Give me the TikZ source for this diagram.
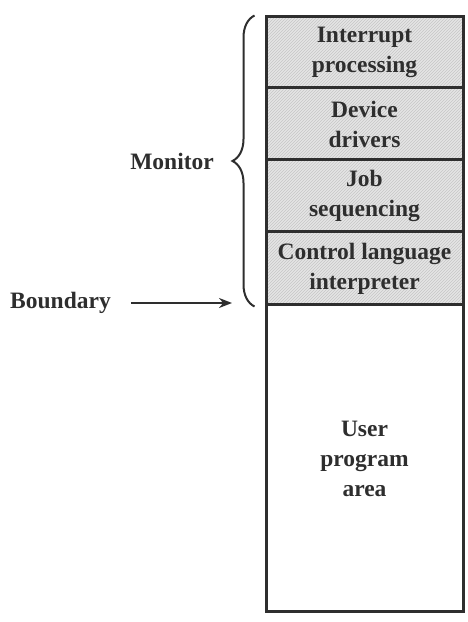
\documentclass[tikz,border=0pt]{standalone}
\usepackage{fontspec}
\setmainfont{Liberation Serif}
\usetikzlibrary{patterns,decorations.pathreplacing,arrows.meta}
\definecolor{ink}{HTML}{2E2E2E}
\begin{document}
\begin{tikzpicture}[x=1pt,y=1pt,
  txt/.style={font=\fontsize{23.5}{30}\selectfont\bfseries, text=ink, align=center},
  cellbox/.style={draw=ink, line width=3pt, minimum width=197pt, inner sep=0pt, txt},
  hatched/.style={preaction={fill=gray!20}, pattern=north east lines, pattern color=gray!45}]
\useasboundingbox (0,0) rectangle (468,622);
% cells (y measured from the top: 622 - py)
\node[cellbox, hatched, minimum height=71pt] (c1) at (364.5,569.5) {Interrupt\\processing};
\node[cellbox, hatched, minimum height=72pt] (c2) at (364.5,498) {Device\\drivers};
\node[cellbox, hatched, minimum height=72pt] (c3) at (364.5,426) {Job\\sequencing};
\node[cellbox, hatched, minimum height=73pt] (c4) at (364.5,353.5) {Control language\\interpreter};
\node[cellbox, minimum height=307pt] (c5) at (364.5,163.5) {User\\program\\area};
% brace
\draw[ink, line width=2pt, decorate, decoration={brace, amplitude=22pt, aspect=0.5}]
  (c4.south west) ++(-10,0) coordinate (bb) -- ([xshift=-10pt]c1.north west) coordinate (bt);
\node[txt, anchor=east, inner sep=0pt] (mon) at (214,461) {Monitor};
\node[txt, anchor=west, inner sep=0pt] (bnd) at (10,319) {Boundary};
\coordinate (btip) at (232,319);
\draw[ink, line width=2.4pt, -{Stealth[length=13pt,width=10pt]}] ([xshift=20pt]bnd.east) -- (btip);
\end{tikzpicture}
\end{document}
